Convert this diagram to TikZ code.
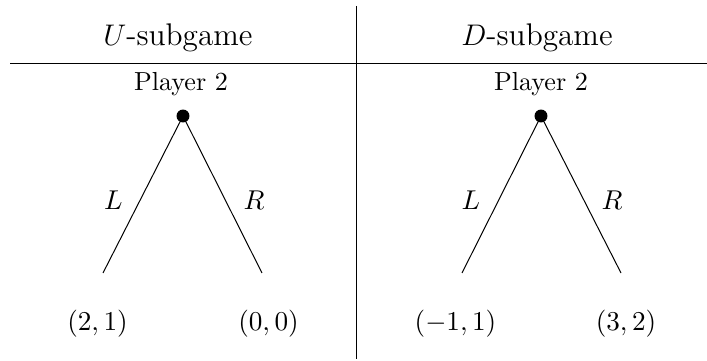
\documentclass[tikz,border=0pt]{standalone}
\begin{document}
\begin{tikzpicture}[x=0.01414cm,y=-0.01414cm,
  title/.style={font=\fontsize{12.6}{15}\selectfont},
  lbl/.style={font=\fontsize{10.5}{13}\selectfont},
  dotnode/.style={circle,fill=black,inner sep=0pt,minimum size=5.2pt},
  leaf/.style={inner sep=0pt,minimum size=0pt}]
\useasboundingbox (0,0) rectangle (707,361);
\draw (356,6) -- (356,359);
\draw (10,64) -- (707,64);
\node[title] (t1) at (178,38) {$U$-subgame};
\node[title] (t2) at (537,38) {$D$-subgame};
% left
\node[lbl] (p1) at (181,84) {Player 2};
\node[dotnode] (d1) at (183,116) {};
\coordinate (l1) at (103,273);
\coordinate (r1) at (262,273);
\draw (d1.center) -- (l1);
\draw (d1.center) -- (r1);
\node[lbl] (a1) at (113.5,200) {$L$};
\node[lbl] (b1) at (254,200) {$R$};
\node[lbl] (u1) at (97.5,324) {$(2,1)$};
\node[lbl] (v1) at (268.5,324) {$(0,0)$};
% right
\node[lbl] (p2) at (541,84) {Player 2};
\node[dotnode] (d2) at (541,116) {};
\coordinate (l2) at (462,273);
\coordinate (r2) at (621,273);
\draw (d2.center) -- (l2);
\draw (d2.center) -- (r2);
\node[lbl] (a2) at (471,200) {$L$};
\node[lbl] (b2) at (612,200) {$R$};
\node[lbl] (u2) at (455.5,324) {$(-1,1)$};
\node[lbl] (v2) at (626,324) {$(3,2)$};
\end{tikzpicture}
\end{document}
